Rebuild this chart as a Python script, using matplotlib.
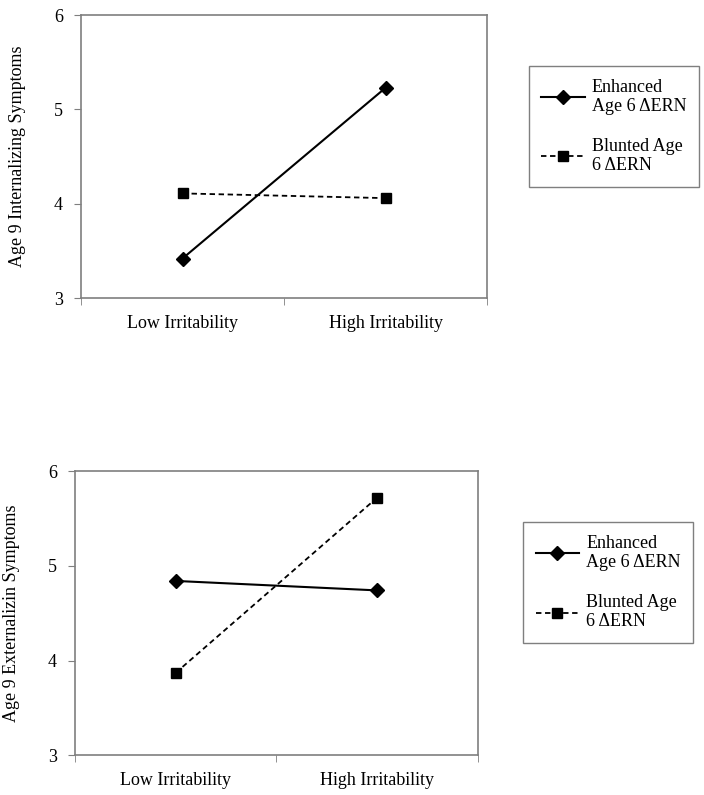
import matplotlib
matplotlib.use('Agg')
import matplotlib.pyplot as plt

# Data
categories = ['Low Irritability', 'High Irritability']
series_labels = ['Enhanced\nAge 6 \u0394ERN', 'Blunted Age\n6 \u0394ERN']

internalizing_enhanced = [3.42, 5.23]
internalizing_blunted = [4.11, 4.06]

externalizing_enhanced = [4.84, 4.74]
externalizing_blunted = [3.87, 5.72]

y_ticks = [3, 4, 5, 6]

plt.rcParams['font.family'] = ['Liberation Serif', 'DejaVu Serif']
plt.rcParams['font.size'] = 13

spine_color = '#7f7f7f'

fig = plt.figure(figsize=(7.04, 7.95), dpi=100)
ax_top = fig.add_axes([0.115, 0.625, 0.577, 0.356])
ax_bot = fig.add_axes([0.1065, 0.050, 0.5725, 0.3575])


def draw_panel(ax, enhanced, blunted, ylabel, legend_anchor):
    x = list(range(len(categories)))
    ax.plot(x, enhanced, color='black', linewidth=1.5, linestyle='-',
            marker='D', markersize=7, label=series_labels[0])
    ax.plot(x, blunted, color='black', linewidth=1.3, linestyle=(0, (3, 2)),
            marker='s', markersize=7.5, label=series_labels[1])

    ax.set_xlim(-0.5, len(categories) - 0.5)
    ax.set_ylim(3, 6)
    ax.set_yticks(y_ticks)
    ax.set_yticklabels([str(t) for t in y_ticks])

    # category labels at centres, tick marks at category boundaries
    ax.set_xticks(x)
    ax.set_xticklabels(categories)
    ax.tick_params(axis='x', which='major', length=0, pad=12)
    ax.set_xticks([-0.5, 0.5, 1.5], minor=True)
    ax.tick_params(axis='x', which='minor', length=5, color=spine_color, direction='out')
    ax.tick_params(axis='y', length=5, color=spine_color, direction='out', pad=8)

    for sp in ax.spines.values():
        sp.set_color(spine_color)
        sp.set_linewidth(1.2)

    ax.set_ylabel(ylabel, fontsize=13, labelpad=20)

    leg = fig.legend(handles=ax.get_lines(), loc='upper left',
                     bbox_to_anchor=legend_anchor, borderaxespad=0,
                     fancybox=False, edgecolor=spine_color, framealpha=1,
                     numpoints=1, handlelength=2.4, handletextpad=0.4,
                     labelspacing=1.3, borderpad=0.7, fontsize=13)
    leg.get_frame().set_linewidth(1.0)
    for t in leg.get_texts():
        t.set_linespacing(1.15)


draw_panel(ax_top, internalizing_enhanced, internalizing_blunted,
           'Age 9 Internalizing Symptoms', (0.751, 0.917))
draw_panel(ax_bot, externalizing_enhanced, externalizing_blunted,
           'Age 9 Externalizin Symptoms', (0.743, 0.343))

fig.savefig('out.png', dpi=100)
